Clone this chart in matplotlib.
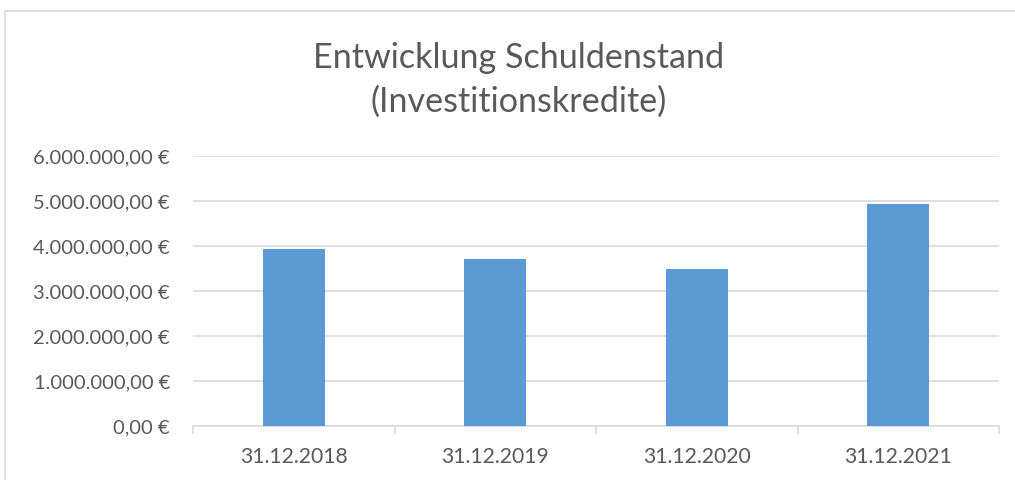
import matplotlib
matplotlib.use("Agg")
import matplotlib.pyplot as plt
from matplotlib.ticker import FuncFormatter, FixedLocator
from matplotlib.patches import Rectangle

categories = ["31.12.2018", "31.12.2019", "31.12.2020", "31.12.2021"]
values = [3930000, 3720000, 3500000, 4940000]
yticks = [0, 1000000, 2000000, 3000000, 4000000, 5000000, 6000000]
title = "Entwicklung Schuldenstand\n(Investitionskredite)"

plt.rcParams['font.family'] = ['Lato', 'DejaVu Sans']

W, H = 1015, 480
fig = plt.figure(figsize=(W / 100, H / 100), dpi=100)
fig.patch.set_facecolor("white")

# outer chart border (cropped)
fig.patches.append(Rectangle((4.5 / W, -0.1), 1.2, (H - 11) / H + 0.1, transform=fig.transFigure,
                             fill=False, edgecolor="#d9d9d9", linewidth=1.2))

left, right, top, bottom = 193, 999, 156, 426
ax = fig.add_axes([left / W, 1 - bottom / H, (right - left) / W, (bottom - top) / H])

x = list(range(len(categories)))
ax.bar(x, values, width=0.31, color="#5b9bd5", zorder=3)

ax.set_xlim(-0.5, len(categories) - 0.5)
ax.set_ylim(0, 6000000)

def fmt(v, pos):
    s = f"{v:,.2f}".replace(",", "X").replace(".", ",").replace("X", ".")
    return s + " €"

ax.yaxis.set_major_locator(FixedLocator(yticks))
ax.yaxis.set_major_formatter(FuncFormatter(fmt))
ax.grid(axis="y", color="#d9d9d9", linewidth=1.2, zorder=0)
ax.tick_params(axis="y", length=0, pad=16.5, labelsize=14.5, labelcolor="#595959")

ax.set_xticks(x)
ax.set_xticklabels(categories)
ax.tick_params(axis="x", which="major", length=0, pad=15, labelsize=15.2, labelcolor="#595959")
ax.set_xticks([i - 0.5 for i in range(len(categories) + 1)], minor=True)
ax.tick_params(axis="x", which="minor", length=6, color="#d9d9d9", width=1.2)

for s in ["top", "right", "left"]:
    ax.spines[s].set_visible(False)
ax.spines["bottom"].set_color("#d9d9d9")
ax.spines["bottom"].set_linewidth(1.2)

fig.text(519 / W, 1 - 80 / H, title, ha="center", va="center", fontsize=24.6,
         color="#595959", linespacing=1.45)

fig.savefig("out.png", dpi=100, facecolor="white")
